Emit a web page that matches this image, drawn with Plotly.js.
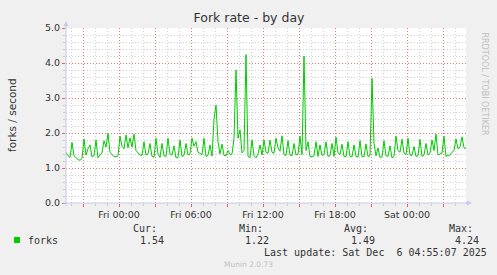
<!DOCTYPE html>
<html>
<head>
<meta charset="utf-8">
<script src="https://cdn.plot.ly/plotly-3.0.1.min.js"></script>
<style>
html,body{margin:0;padding:0;background:#F0F0F0;}
#chart{width:497px;height:275px;}
</style>
</head>
<body>
<div id="chart"></div>
<script>
// ---- data ----
const startTime = '2025-12-04 19:35:00';
const endTime = '2025-12-06 04:55:00';
const stepMinutes = 10;
const forks = [
 1.45,1.35,1.3,1.73,1.35,1.28,1.24,1.22,1.27,1.83,
 1.37,1.55,1.66,1.32,1.35,1.8,1.29,1.38,1.43,1.78,
 1.6,1.99,1.45,1.38,1.33,1.32,1.35,1.91,1.62,1.55,
 1.94,1.58,1.86,1.6,1.97,1.5,1.42,1.37,1.36,1.75,
 1.37,1.4,1.7,1.33,1.31,1.85,1.4,1.3,1.7,1.35,
 1.33,1.85,1.4,1.37,1.63,1.29,1.3,1.8,1.33,1.36,
 1.7,1.37,1.4,1.85,1.62,1.75,1.45,1.42,1.38,1.85,
 1.33,1.36,1.66,1.34,2.4,2.8,1.75,1.4,1.68,1.36,
 1.35,1.5,1.38,1.4,1.85,3.8,1.85,2.09,1.43,1.5,
 4.24,1.33,1.3,1.8,1.35,1.29,1.4,1.66,1.37,1.8,
 1.45,1.42,1.8,1.45,1.42,1.85,1.58,1.48,1.92,1.38,
 1.36,1.78,1.37,1.35,1.7,1.37,1.4,1.91,1.38,4.2,
 1.5,1.75,1.33,1.32,1.35,1.75,1.33,1.66,1.36,1.38,
 1.75,1.33,1.35,1.7,1.33,1.88,1.43,1.38,1.68,1.33,
 1.32,1.75,1.33,1.32,1.66,1.33,1.31,1.78,1.33,1.32,
 1.69,1.33,1.35,3.56,1.7,1.35,1.57,1.3,1.32,1.78,
 1.35,1.33,1.63,1.29,1.33,1.91,1.5,1.45,1.82,1.43,
 1.38,1.85,1.37,1.36,1.61,1.33,1.35,1.82,1.33,1.37,
 1.7,1.37,1.42,1.8,1.5,1.97,1.37,1.4,1.43,1.91,
 1.33,1.36,1.37,1.45,1.5,1.83,1.55,1.6,1.89,1.58,
 1.54
];
const majorTickVals = ['2025-12-04 21:00','2025-12-05 00:00','2025-12-05 03:00','2025-12-05 06:00','2025-12-05 09:00','2025-12-05 12:00','2025-12-05 15:00','2025-12-05 18:00','2025-12-05 21:00','2025-12-06 00:00','2025-12-06 03:00'];
const majorTickText = ['','Fri 00:00','','Fri 06:00','','Fri 12:00','','Fri 18:00','','Sat 00:00',''];
const yTickVals = [0,1,2,3,4,5];
const yTickText = ['0.0','1.0','2.0','3.0','4.0','5.0'];
const statLabels = ['Cur:','Min:','Avg:','Max:'];
const statValues = ['1.54','1.22','1.49','4.24'];
const seriesName = 'forks';
const lastUpdate = 'Last update: Sat Dec  6 04:55:07 2025';

// ---- build times ----
function toStr(ms){return new Date(ms).toISOString().replace('T',' ').slice(0,19);}
const t0 = Date.parse(startTime.replace(' ','T')+'Z');
const times = forks.map((v,i)=>toStr(t0 + i*stepMinutes*60000));

// pixel helpers (plot area: x 66..466, y 28..203)
const L=66, R=466, T=28, B=203;
const px = x => (x-L)/(R-L);
const py = y => (B-y)/(B-T);

const SANS = 'DejaVu Sans, sans-serif';
const MONO = 'DejaVu Sans Mono, monospace';
const TXT = '#333333';
const MAJ = 'rgba(240,80,80,0.7)';
const MIN = 'rgba(165,165,165,0.5)';
const AXIS = '#C8C8F0';
const DASH = '1px,2px';

const ann = [];
ann.push({xref:'paper',yref:'paper',x:px(12),y:py(115),text:'forks / second',showarrow:false,textangle:-90,font:{family:SANS,size:10.5,color:TXT},xanchor:'center',yanchor:'middle'});
ann.push({xref:'paper',yref:'paper',x:px(484),y:py(30),text:'RRDTOOL / TOBI OETIKER',showarrow:false,textangle:90,font:{family:SANS,size:8,color:'#BEBEBE'},xanchor:'center',yanchor:'top'});
const statX = [131,236.5,342,446.5];
const valX = [137.5,243,348.5,453];
statLabels.forEach((s,i)=>ann.push({xref:'paper',yref:'paper',x:px(statX[i]),y:py(228),text:s,showarrow:false,xanchor:'left',yanchor:'middle',font:{family:MONO,size:10,color:TXT}}));
statValues.forEach((s,i)=>ann.push({xref:'paper',yref:'paper',x:px(valX[i]),y:py(240),text:s,showarrow:false,xanchor:'left',yanchor:'middle',font:{family:MONO,size:10,color:TXT}}));
ann.push({xref:'paper',yref:'paper',x:px(26),y:py(240),text:seriesName,showarrow:false,xanchor:'left',yanchor:'middle',font:{family:MONO,size:10,color:TXT}});
ann.push({xref:'paper',yref:'paper',x:px(261.5),y:py(252),text:lastUpdate.replace(/  /g,' &nbsp;'),showarrow:false,xanchor:'left',yanchor:'middle',font:{family:MONO,size:10,color:TXT}});
ann.push({xref:'paper',yref:'paper',x:px(248),y:py(264),text:'Munin 2.0.73',showarrow:false,xanchor:'center',yanchor:'middle',font:{family:SANS,size:7.5,color:'#C0C0C0'}});
// axis arrows
ann.push({xref:'paper',yref:'paper',x:px(472),y:py(203),ax:-8,ay:0,text:'',showarrow:true,arrowhead:2,arrowsize:1,arrowwidth:1,arrowcolor:AXIS});
ann.push({xref:'paper',yref:'paper',x:px(66),y:py(21),ax:0,ay:8,text:'',showarrow:true,arrowhead:2,arrowsize:1,arrowwidth:1,arrowcolor:AXIS});

const shapes = [
 {type:'line',xref:'paper',yref:'paper',x0:px(63),x1:px(470),y0:py(203),y1:py(203),line:{color:AXIS,width:1}},
 {type:'line',xref:'paper',yref:'paper',x0:px(66),x1:px(66),y0:py(206),y1:py(23),line:{color:AXIS,width:1}},
 {type:'rect',xref:'paper',yref:'paper',x0:px(14),x1:px(20),y0:py(243),y1:py(237),fillcolor:'#00CC00',line:{width:0}}
];

const trace = {x:times,y:forks,type:'scatter',mode:'lines',line:{color:'#00CC00',width:1},hoverinfo:'skip',showlegend:false};

const layout = {
 width:497,height:275,
 margin:{l:L,r:497-R,t:T,b:275-B,pad:0},
 paper_bgcolor:'#F0F0F0',plot_bgcolor:'#FFFFFF',
 title:{text:'Fork rate - by day',x:0.501,xref:'container',y:1-18/275,yref:'container',xanchor:'center',yanchor:'middle',font:{family:SANS,size:12.5,color:TXT}},
 xaxis:{type:'date',range:[startTime,endTime],tickmode:'array',tickvals:majorTickVals,ticktext:majorTickText,
  showgrid:true,gridcolor:MAJ,griddash:DASH,gridwidth:1,zeroline:false,showline:false,
  ticks:'outside',ticklen:3,tickcolor:'rgba(255,60,60,0.8)',tickfont:{family:SANS,size:9.5,color:TXT},
  minor:{tickmode:'linear',tick0:'2025-12-04 00:00',dtick:3600000,showgrid:true,gridcolor:MIN,griddash:DASH,gridwidth:1,ticks:'outside',ticklen:2,tickcolor:MIN},
  fixedrange:true},
 yaxis:{range:[0,5],tickmode:'array',tickvals:yTickVals,ticktext:yTickText,
  showgrid:true,gridcolor:MAJ,griddash:DASH,gridwidth:1,zeroline:false,showline:false,
  ticks:'outside',ticklen:3,tickcolor:'rgba(255,60,60,0.8)',tickfont:{family:SANS,size:9.5,color:TXT},
  minor:{tickmode:'linear',tick0:0,dtick:0.2,showgrid:true,gridcolor:MIN,griddash:DASH,gridwidth:1,ticks:'outside',ticklen:2,tickcolor:MIN},
  fixedrange:true},
 annotations:ann,shapes:shapes,showlegend:false
};
Plotly.newPlot('chart',[trace],layout,{displayModeBar:false,staticPlot:true});
</script>
</body>
</html>
